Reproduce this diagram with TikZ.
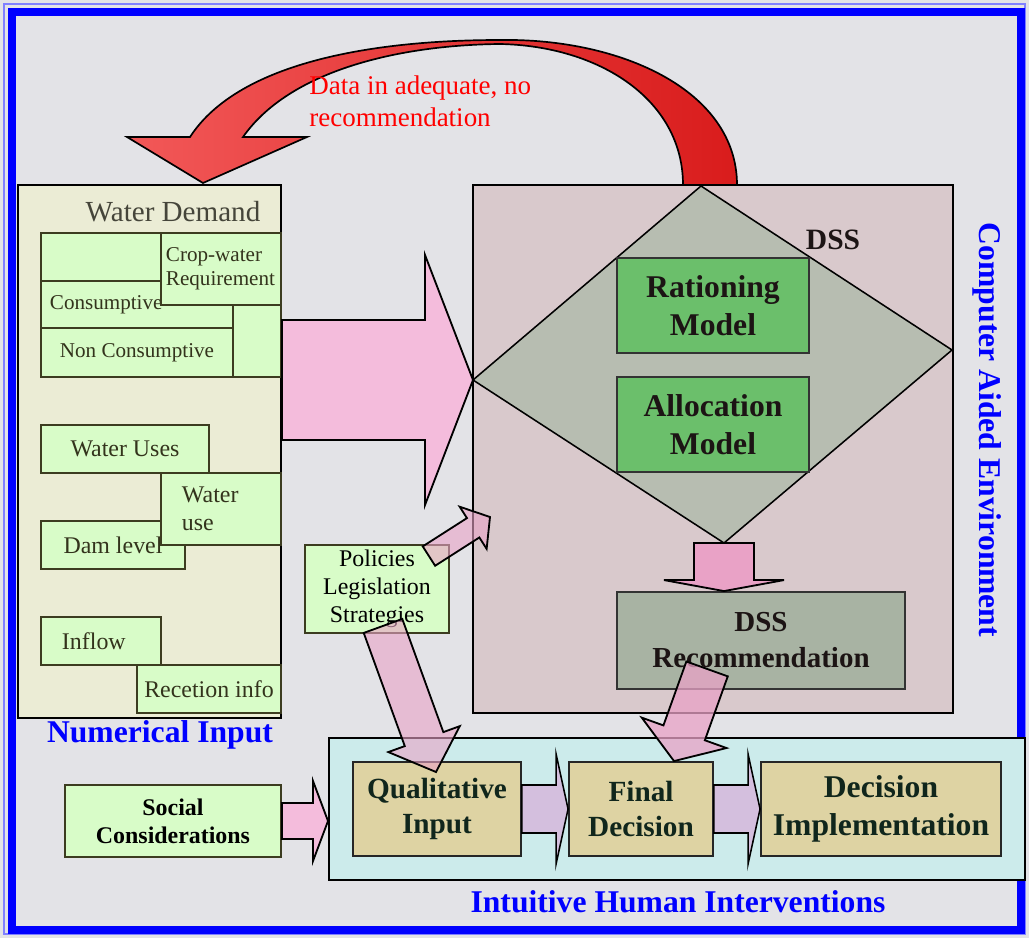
\documentclass[tikz,border=0pt]{standalone}
\usepackage{fontspec}
\setmainfont{Liberation Serif}
\usetikzlibrary{calc}

\definecolor{marble}{HTML}{E3E3E7}
\definecolor{frameblue}{HTML}{0000FF}
\definecolor{wdfill}{HTML}{EBECD5}
\definecolor{gfill}{HTML}{D8FCC8}
\definecolor{gline}{HTML}{3C3C20}
\definecolor{gtext}{HTML}{33331C}
\definecolor{titletext}{HTML}{45453A}
\definecolor{dssfill}{HTML}{D9C9CC}
\definecolor{diamondfill}{HTML}{B7BDB1}
\definecolor{modelfill}{HTML}{6BBF6B}
\definecolor{recfill}{HTML}{A8B3A3}
\definecolor{botfill}{HTML}{CCEBEB}
\definecolor{tanfill}{HTML}{DED3A3}
\definecolor{boldtext}{HTML}{1C1414}
\definecolor{tantext}{HTML}{10261C}
\definecolor{pinkbig}{HTML}{F4BCDC}
\definecolor{pinkdown}{HTML}{E9A2C6}
\definecolor{lavender}{HTML}{D6B8DC}
\definecolor{redlight}{HTML}{F25858}
\definecolor{reddark}{HTML}{D91C1C}

% one pixel of the original sheet
\newcommand{\px}{0.7113pt}
% block arrow: [style]{tail}{tip}{half shaft}{half head}{head length}
\newcommand{\blockarrow}[6][]{%
  \draw[#1] ($(#2)!{#4*\px}!90:(#3)$)
    -- ($(#3)!{#6*\px}!(#2)!{#4*\px}!90:(#3)$)
    -- ($(#3)!{#6*\px}!(#2)!{#5*\px}!90:(#3)$)
    -- (#3)
    -- ($(#3)!{#6*\px}!(#2)!{#5*\px}!-90:(#3)$)
    -- ($(#3)!{#6*\px}!(#2)!{#4*\px}!-90:(#3)$)
    -- ($(#2)!{#4*\px}!-90:(#3)$) -- cycle;}

\begin{document}
\begin{tikzpicture}[x=0.025cm, y=-0.025cm,
    every node/.style={inner sep=0pt, align=center},
    panel/.style={draw=black, line width=1.3pt},
    gbox/.style={draw=gline, fill=gfill, line width=1.3pt, text=gtext, font=\fontsize{17}{20}\selectfont},
    small/.style={font=\fontsize{15}{17}\selectfont},
    model/.style={draw=black!80, line width=1.3pt, text=boldtext, font=\bfseries\fontsize{22.5}{27}\selectfont},
    tanbox/.style={draw=black!85, fill=tanfill, line width=1.3pt, text=tantext, font=\bfseries\fontsize{20.8}{25}\selectfont},
    bluetitle/.style={text=frameblue, font=\bfseries\fontsize{22.5}{26}\selectfont},
    bigarrow/.style={draw=black, line width=1.3pt, fill=pinkbig},
    downarrow/.style={draw=black, line width=1.3pt, fill=pinkdown},
    stepflow/.style={draw=black, line width=1.1pt, fill=lavender, fill opacity=0.85},
    policyarrow/.style={draw=black, line width=1.3pt, fill=pinkdown, fill opacity=0.6}]
    \useasboundingbox (0,0) rectangle (1029,938);

    % marble sheet and blue frame
    \fill[marble] (0,0) rectangle (1029,938);
    \draw[frameblue!50, line width=0.8pt] (4,4) rectangle (1025,934);
    \draw[frameblue, line width=5.5pt] (12,12) rectangle (1021,930);

    % feedback arrow
    \shadedraw[left color=redlight, right color=reddark, draw=black, line width=1.2pt]
      (203,183) -- (307,137) -- (243,137)
      .. controls (290,70) and (400,45) .. (500,44)
      .. controls (600,46) and (683,100) .. (683,185)
      -- (737,185)
      .. controls (737,90) and (620,38) .. (500,40)
      .. controls (380,40) and (240,60) .. (190,137)
      -- (127,137) -- cycle;
    \node[text=red, font=\fontsize{19.2}{23}\selectfont, anchor=west, align=left] (msg) at (309,101)
      {Data in adequate, no\\recommendation};

    % numerical input
    \node[panel, fill=wdfill, minimum width=263*\px, minimum height=533*\px] (wd) at (149.5,451.5) {};
    \node[text=titletext, font=\fontsize{20.7}{24}\selectfont] (wdtitle) at (173,212) {Water Demand};
    \node[gbox, minimum width=240*\px, minimum height=144*\px] (dgroup) at (161,305) {};
    \node[gbox, small, minimum width=192*\px, minimum height=47*\px, text width=174*\px, align=left] (cons) at (137,304.5) {Consumptive};
    \node[gbox, small, minimum width=192*\px, minimum height=49*\px] (noncons) at (137,352.5) {Non Consumptive};
    \node[gbox, small, minimum width=120*\px, minimum height=72*\px, text width=110*\px, align=left] (crop) at (221,269) {Crop-water\\Requirement};
    \node[gbox, minimum width=168*\px, minimum height=48*\px] (uses) at (125,449) {Water Uses};
    \node[gbox, minimum width=144*\px, minimum height=48*\px] (dam) at (113,545) {Dam level};
    \node[gbox, minimum width=120*\px, minimum height=72*\px, text width=78*\px, align=left] (wateruse) at (221,509) {Water\\use};
    \node[gbox, minimum width=120*\px, minimum height=48*\px, text width=78*\px, align=left] (inflow) at (101,641) {Inflow};
    \node[gbox, minimum width=144*\px, minimum height=48*\px] (recetion) at (209,689) {Recetion info};

    % DSS
    \node[panel, fill=dssfill, minimum width=480*\px, minimum height=528*\px] (dss) at (713,449) {};
    \coordinate (dtop) at (701,186);
    \coordinate (dright) at (952,350);
    \coordinate (dbot) at (724,543);
    \coordinate (dleft) at (473,380);
    \draw[fill=diamondfill, line width=1.1pt] (dtop) -- (dright) -- (dbot) -- (dleft) -- cycle;
    \node[model, fill=modelfill, minimum width=192*\px, minimum height=95*\px] (rat) at (713,305.5) {Rationing\\Model};
    \node[model, fill=modelfill, minimum width=192*\px, minimum height=95*\px] (alloc) at (713,424.5) {Allocation\\Model};
    \node[text=boldtext, font=\bfseries\fontsize{21}{24}\selectfont] (dsslabel) at (833,240) {DSS};
    \node[model, fill=recfill, minimum width=288*\px, minimum height=97*\px, font=\bfseries\fontsize{20.6}{25.6}\selectfont] (dssrec) at (761,640.5) {DSS\\Recommendation};

    \coordinate (bigtail) at (wd.east |- dleft);
    \blockarrow[bigarrow]{bigtail}{dleft}{60}{125}{48}
    \coordinate (rectop) at (dbot |- dssrec.north);
    \blockarrow[downarrow]{dbot}{rectop}{30}{60}{11}

    % human interventions
    \node[panel, fill=botfill, minimum width=696*\px, minimum height=142*\px] (human) at (677,809) {};
    \node[tanbox, minimum width=168*\px, minimum height=94*\px] (qual) at (437,809) {Qualitative\\Input};
    \node[tanbox, minimum width=144*\px, minimum height=94*\px] (final) at (641,809) {Final\\Decision};
    \node[tanbox, minimum width=240*\px, minimum height=94*\px, font=\bfseries\fontsize{22.5}{26.5}\selectfont] (impl) at (881,809) {Decision\\Implementation};
    \node[gbox, minimum width=216*\px, minimum height=72*\px, text=black, font=\bfseries\fontsize{17}{20}\selectfont] (social) at (173,821) {Social\\Considerations};
    \node[gbox, text=black, minimum width=144*\px, minimum height=88*\px] (policy) at (377,589) {Policies\\Legislation\\Strategies};

    \coordinate (socialtip) at (human.west |- social.east);
    \blockarrow[downarrow, fill=pinkbig]{social.east}{socialtip}{18}{40}{15}
    \foreach \a/\b in {qual/final, final/impl} {
        \blockarrow[stepflow]{\a.east}{\b.west}{24}{55}{12}
    }

    % policy and recommendation links
    \coordinate (polup) at ($(policy.north east)+(-21,12)$);
    \coordinate (poluptip) at (490,517);
    \blockarrow[policyarrow]{polup}{poluptip}{11.5}{25}{20}
    \coordinate (poldown) at ($(policy.south)+(6,-8)$);
    \coordinate (poldowntip) at (436,772);
    \blockarrow[policyarrow]{poldown}{poldowntip}{20.5}{38}{35}
    \coordinate (rectail) at ($(dssrec.south west)+(91,-21)$);
    \coordinate (rectip) at ($(final.north)+(33,0)$);
    \blockarrow[policyarrow, fill opacity=0.75]{rectail}{rectip}{22}{45}{30}

    % captions
    \node[bluetitle] (numin) at (160,735) {Numerical Input};
    \node[bluetitle] (humanlabel) at (678,902) {Intuitive Human Interventions};
    \node[bluetitle, rotate=-90] (cae) at (987,430) {Computer Aided Environment};
\end{tikzpicture}
\end{document}
